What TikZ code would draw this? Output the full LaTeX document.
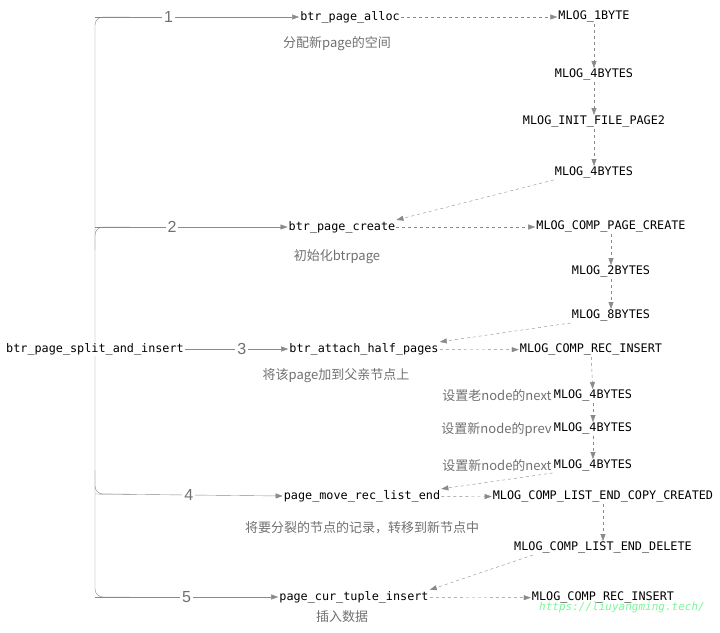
\documentclass[tikz,border=0pt]{standalone}
\usepackage{fontspec}
\setmonofont{DejaVu Sans Mono}
\setsansfont{Liberation Sans}
\newfontfamily\cjk{Noto Sans CJK SC}
\usetikzlibrary{arrows.meta}
\definecolor{linegray}{HTML}{8A8A8A}
\definecolor{textgray}{HTML}{707070}
\definecolor{markgreen}{HTML}{7CF59A}
\begin{document}
\begin{tikzpicture}[
  x=1pt, y=-1pt,
  fn/.style={font=\ttfamily\fontsize{11.8}{14}\selectfont, inner sep=1pt},
  note/.style={font=\cjk\fontsize{13}{15}\selectfont, text=textgray, inner sep=1pt},
  num/.style={font=\sffamily\fontsize{16}{18}\selectfont, text=textgray, fill=white, inner sep=2pt},
  call/.style={draw=linegray, -{Triangle[length=7pt,width=5pt]}},
  log/.style={draw=linegray, dashed, -{Triangle[length=7pt,width=5pt]}}
]
  \useasboundingbox (0,0) rectangle (720,632);
  % Root and calls
  \node[fn] (root) at (95,349) {btr\_page\_split\_and\_insert};
  \node[fn] (alloc) at (350,17) {btr\_page\_alloc};
  \node[fn] (create) at (342,227) {btr\_page\_create};
  \node[fn] (attach) at (364,349) {btr\_attach\_half\_pages};
  \node[fn] (move) at (362,496) {page\_move\_rec\_list\_end};
  \node[fn] (insert) at (354,597) {page\_cur\_tuple\_insert};
  % Notes
  \node[note] (n1) at (337,44) {分配新page的空间};
  \node[note] (n2) at (337,257) {初始化btrpage};
  \node[note] (n3) at (336,376) {将该page加到父亲节点上};
  \node[note] (n4) at (362,528) {将要分裂的节点的记录，转移到新节点中};
  \node[note] (n5) at (342,617) {插入数据};
  % Trunk
  \coordinate (top) at (95,17);
  \coordinate (bot) at (95,597);
  \draw[linegray, rounded corners=8pt] (130,17) -- (top) -- (root.north -| top);
  \draw[linegray, rounded corners=8pt] (130,227) -- (95,227) -- (95,250);
  \draw[linegray, rounded corners=8pt] (root.south -| bot) -- (bot) -- (130,597);
  \draw[linegray, rounded corners=8pt] (130,494) -- (95,494) -- (95,470);
  \draw[call] (top) -- node[num, pos=0.36] {1} (alloc.west);
  \draw[call] (95,227) -- node[num, pos=0.4] {2} (create.west);
  \draw[call] (root.east) -- node[num, pos=0.55] {3} (attach.west);
  \draw[call] (95,494) -- node[num, pos=0.5] {4} (move.west);
  \draw[call] (bot) -- node[num, pos=0.5] {5} (insert.west);
  % Logs of btr_page_alloc
  \node[fn] (a1) at (594,17) {MLOG\_1BYTE};
  \node[fn] (a2) at (594,75) {MLOG\_4BYTES};
  \node[fn] (a3) at (594,122) {MLOG\_INIT\_FILE\_PAGE2};
  \node[fn] (a4) at (594,173) {MLOG\_4BYTES};
  \draw[log] (alloc) -- (a1);
  \draw[log] (a1) -- (a2);
  \draw[log] (a2) -- (a3);
  \draw[log] (a3) -- (a4);
  \draw[log] (a4.south west) -- (create.north east);
  % Logs of btr_page_create
  \node[fn] (c1) at (611,227) {MLOG\_COMP\_PAGE\_CREATE};
  \node[fn] (c2) at (611,272) {MLOG\_2BYTES};
  \node[fn] (c3) at (611,316) {MLOG\_8BYTES};
  \draw[log] (create) -- (c1);
  \draw[log] (c1) -- (c2);
  \draw[log] (c2) -- (c3);
  \draw[log] (c3.south west) -- (attach.north east);
  % Logs of btr_attach_half_pages
  \node[fn] (h1) at (591,350) {MLOG\_COMP\_REC\_INSERT};
  \node[fn] (h2) at (593,396) {MLOG\_4BYTES};
  \node[fn] (h3) at (593,429) {MLOG\_4BYTES};
  \node[fn] (h4) at (593,466) {MLOG\_4BYTES};
  \node[note, anchor=east] (l2) at (h2.west) {设置老node的next};
  \node[note, anchor=east] (l3) at (h3.west) {设置新node的prev};
  \node[note, anchor=east] (l4) at (h4.west) {设置新node的next};
  \draw[log] (attach) -- (h1);
  \draw[log] (h1) -- (h2);
  \draw[log] (h2) -- (h3);
  \draw[log] (h3) -- (h4);
  \draw[log] (h4.south west) -- (move.north east);
  % Logs of page_move_rec_list_end
  \node[fn] (m1) at (603,497) {MLOG\_COMP\_LIST\_END\_COPY\_CREATED};
  \node[fn] (m2) at (603,548) {MLOG\_COMP\_LIST\_END\_DELETE};
  \draw[log] (move) -- (m1);
  \draw[log] (m1) -- (m2);
  \draw[log] (m2.south west) ++(20,0) -- (insert.north east);
  % Logs of page_cur_tuple_insert
  \node[fn] (i1) at (603,598) {MLOG\_COMP\_REC\_INSERT};
  \draw[log] (insert) -- (i1);
  \node[font=\ttfamily\itshape\fontsize{11}{13}\selectfont, text=markgreen] (mark) at (622,607) {https://liuyangming.tech/};
\end{tikzpicture}
\end{document}
